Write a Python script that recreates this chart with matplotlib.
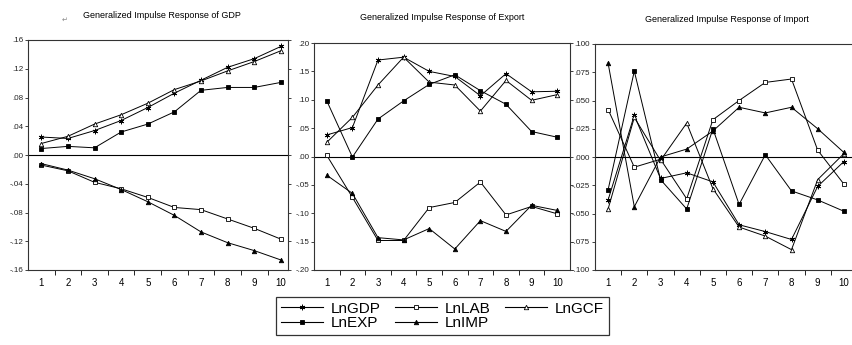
import numpy as np
import matplotlib.pyplot as plt
from matplotlib.lines import Line2D

plt.rcParams['font.family'] = ['Liberation Sans', 'DejaVu Sans']

periods = np.arange(1, 11)
series_names = ['LnGDP', 'LnLAB', 'LnGCF', 'LnEXP', 'LnIMP']

# response of GDP
gdp_to_gdp = [0.025, 0.023, 0.034, 0.048, 0.066, 0.086, 0.104, 0.122, 0.134, 0.151]
gdp_to_lab = [-0.014, -0.022, -0.038, -0.047, -0.059, -0.073, -0.076, -0.089, -0.102, -0.117]
gdp_to_gcf = [0.016, 0.026, 0.043, 0.056, 0.072, 0.091, 0.103, 0.117, 0.130, 0.145]
gdp_to_exp = [0.009, 0.012, 0.010, 0.032, 0.043, 0.060, 0.090, 0.094, 0.094, 0.101]
gdp_to_imp = [-0.012, -0.021, -0.033, -0.048, -0.065, -0.084, -0.107, -0.122, -0.133, -0.146]

# response of export
exp_to_gdp = [0.038, 0.051, 0.170, 0.175, 0.150, 0.141, 0.107, 0.146, 0.114, 0.115]
exp_to_lab = [0.002, -0.072, -0.148, -0.148, -0.090, -0.081, -0.045, -0.103, -0.088, -0.101]
exp_to_gcf = [0.025, 0.069, 0.126, 0.175, 0.131, 0.126, 0.080, 0.134, 0.099, 0.109]
exp_to_exp = [0.098, -0.001, 0.066, 0.098, 0.127, 0.144, 0.116, 0.092, 0.044, 0.034]
exp_to_imp = [-0.033, -0.065, -0.143, -0.147, -0.127, -0.163, -0.113, -0.132, -0.086, -0.095]

# response of import
imp_to_gdp = [-0.038, 0.037, -0.019, -0.014, -0.022, -0.060, -0.066, -0.073, -0.026, -0.004]
imp_to_lab = [0.042, -0.009, -0.002, -0.037, 0.033, 0.050, 0.066, 0.069, 0.006, -0.024]
imp_to_gcf = [-0.046, 0.035, -0.003, 0.030, -0.028, -0.062, -0.070, -0.082, -0.020, 0.003]
imp_to_exp = [-0.029, 0.076, -0.020, -0.046, 0.025, -0.042, 0.002, -0.030, -0.038, -0.048]
imp_to_imp = [0.083, -0.044, 0.000, 0.007, 0.023, 0.044, 0.039, 0.044, 0.025, 0.004]

titles = ['Generalized Impulse Response of GDP',
          'Generalized Impulse Response of Export',
          'Generalized Impulse Response of Import']

gdp_yticks = [-0.16, -0.12, -0.08, -0.04, 0.0, 0.04, 0.08, 0.12, 0.16]
gdp_ylabels = ['-.16', '-.12', '-.08', '-.04', '.00', '.04', '.08', '.12', '.16']
exp_yticks = [-0.20, -0.15, -0.10, -0.05, 0.0, 0.05, 0.10, 0.15, 0.20]
exp_ylabels = ['-.20', '-.15', '-.10', '-.05', '.00', '.05', '.10', '.15', '.20']
imp_yticks = [-0.100, -0.075, -0.050, -0.025, 0.0, 0.025, 0.050, 0.075, 0.100]
imp_ylabels = ['-.100', '-.075', '-.050', '-.025', '.000', '.025', '.050', '.075', '.100']

styles = {
    'LnGDP': dict(marker=(6, 2, 0), ms=4.0, mfc='black'),
    'LnLAB': dict(marker='s', ms=3.0, mfc='white'),
    'LnGCF': dict(marker='^', ms=3.2, mfc='white'),
    'LnEXP': dict(marker='s', ms=3.2, mfc='black'),
    'LnIMP': dict(marker='^', ms=3.2, mfc='black'),
}

W, H = 852, 345
def px_box(l, t, r, b):
    return [l / W, 1 - b / H, (r - l) / W, (b - t) / H]

fig = plt.figure(figsize=(8.52, 3.45), dpi=100)

panels = [
    (px_box(28, 40, 288, 270), 10.27, gdp_yticks, gdp_ylabels,
     [gdp_to_gdp, gdp_to_lab, gdp_to_gcf, gdp_to_exp, gdp_to_imp], (162, 16)),
    (px_box(314, 43, 570, 270), 10.5, exp_yticks, exp_ylabels,
     [exp_to_gdp, exp_to_lab, exp_to_gcf, exp_to_exp, exp_to_imp], (442, 18)),
    (px_box(595, 44, 857, 270), 10.5, imp_yticks, imp_ylabels,
     [imp_to_gdp, imp_to_lab, imp_to_gcf, imp_to_exp, imp_to_imp], (727, 20)),
]

for i, (rect, xmax, yt, yl, data, (tx, ty)) in enumerate(panels):
    ax = fig.add_axes(rect)
    ax.axhline(0, color='black', lw=0.8, zorder=1)
    for name, vals in zip(series_names, data):
        ax.plot(periods, vals, color='black', lw=0.7, mec='black', mew=0.6,
                zorder=3, **styles[name])
    ax.set_xlim(0.5, xmax)
    ax.set_ylim(yt[0], yt[-1])
    ax.set_yticks(yt)
    ax.set_yticklabels(yl)
    ax.set_xticks(periods)
    ax.set_xticks(np.arange(1.5, 10, 1), minor=True)
    ax.tick_params(axis='y', direction='out', length=2.5, width=0.6,
                   labelsize=5.8, pad=1, right=True, colors='#222222')
    ax.tick_params(axis='x', which='major', length=0, labelsize=7, pad=6)
    ax.tick_params(axis='x', which='minor', direction='out', length=3.5, width=0.6)
    for sp in ax.spines.values():
        sp.set_linewidth(0.8)
        sp.set_color('#333333')
    fig.text(tx / W, 1 - ty / H, titles[i], ha='center', va='center', fontsize=6.5)

fig.text(65 / W, 1 - 20 / H, '\u21b5', ha='center', va='center', fontsize=5,
         color='#888888', family='DejaVu Sans')

handles = {n: Line2D([], [], color='black', lw=0.8, mec='black', mew=0.6, **styles[n])
           for n in series_names}
order = ['LnGDP', 'LnEXP', 'LnLAB', 'LnIMP', 'LnGCF']
leg = fig.legend([handles[n] for n in order], order, ncol=3, loc='upper left',
                 bbox_to_anchor=(276 / W, 1 - 297 / H), frameon=True, fancybox=False,
                 edgecolor='black', prop={'family': 'Liberation Sans', 'size': 11},
                 handlelength=2.8, handletextpad=0.5, columnspacing=0.9,
                 borderpad=0.3, labelspacing=0.05, borderaxespad=0)
leg.get_frame().set_linewidth(0.9)

fig.savefig('out.png', dpi=100)
